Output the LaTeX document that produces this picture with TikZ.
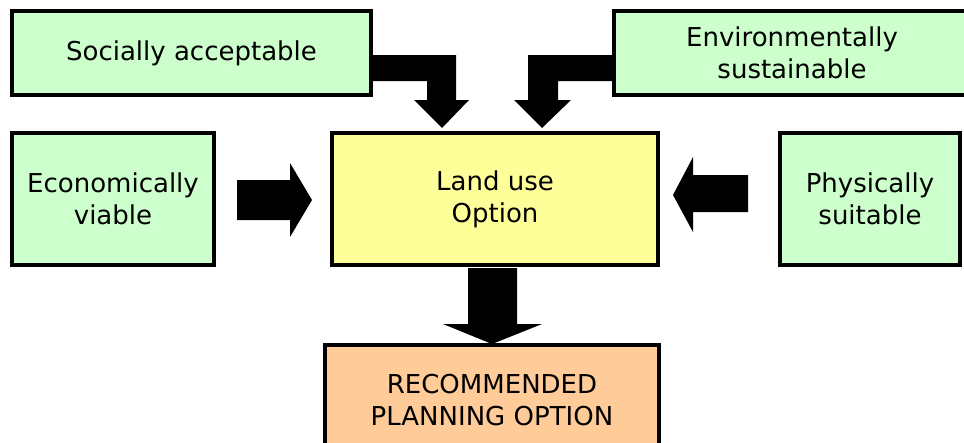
\documentclass[tikz,border=0pt]{standalone}
\usepackage{fontspec}
\setmainfont{DejaVu Sans}
\usetikzlibrary{calc}

\definecolor{critgreen}{HTML}{CCFFCC}
\definecolor{optyellow}{HTML}{FFFF99}
\definecolor{recorange}{HTML}{FFCC99}

\begin{document}
\begin{tikzpicture}[x=1pt,y=-1pt,
    box/.style={draw=black,line width=4pt,align=center,inner sep=0pt,
      font=\fontsize{26}{32}\selectfont},
    crit/.style={box,fill=critgreen,minimum height=132pt},
    blockarrow/.style={fill=black}]
  \useasboundingbox (0,0) rectangle (964,442);
  \path[clip] (0,0) rectangle (964,442);

  \node[crit,minimum width=359pt,minimum height=84pt] (social) at (191.5,53) {Socially acceptable};
  \node[crit,minimum width=356pt,minimum height=84pt] (env) at (792,53) {Environmentally\\sustainable};
  \node[crit,minimum width=202pt] (econ) at (113,199) {Economically\\viable};
  \node[box,fill=optyellow,minimum width=326pt,minimum height=132pt] (land) at (495,199) {Land use\\Option};
  \node[crit,minimum width=180pt] (phys) at (870,199) {Physically\\suitable};
  \node[box,fill=recorange,minimum width=334pt,minimum height=110pt] (rec) at (492,400) {RECOMMENDED\\PLANNING OPTION};

  % bent arrows from the top row
  \fill[blockarrow] ($ (social.east) + (-2,2) $) -- ++(85,0) -- ++(0,45) -- ++(13,0)
    -- ++(-27,28) -- ++(-28,-28) -- ++(13,0) -- ++(0,-19) -- ++(-56,0) -- cycle;
  \fill[blockarrow] ($ (env.west) + (2,2) $) -- ++(-86,0) -- ++(0,45) -- ++(-14,0)
    -- ++(28,28) -- ++(29,-28) -- ++(-13,0) -- ++(0,-19) -- ++(56,0) -- cycle;

  % side arrows
  \fill[blockarrow] ($ (econ.east) + (21,-19) $) -- ++(53,0) -- ++(0,-17) -- ++(22,37)
    -- ++(-22,37) -- ++(0,-17) -- ++(-53,0) -- cycle;
  \fill[blockarrow] ($ (phys.west) + (-30,-24) $) -- ++(-55,0) -- ++(0,-18) -- ++(-20,38)
    -- ++(20,37) -- ++(0,-20) -- ++(55,0) -- cycle;

  % down to the recommendation
  \fill[blockarrow] ($ (land.south) + (-27,1) $) -- ++(0,56) -- ++(-25,0) -- ++(49,20)
    -- ++(50,-20) -- ++(-25,0) -- ++(0,-56) -- cycle;
\end{tikzpicture}
\end{document}
